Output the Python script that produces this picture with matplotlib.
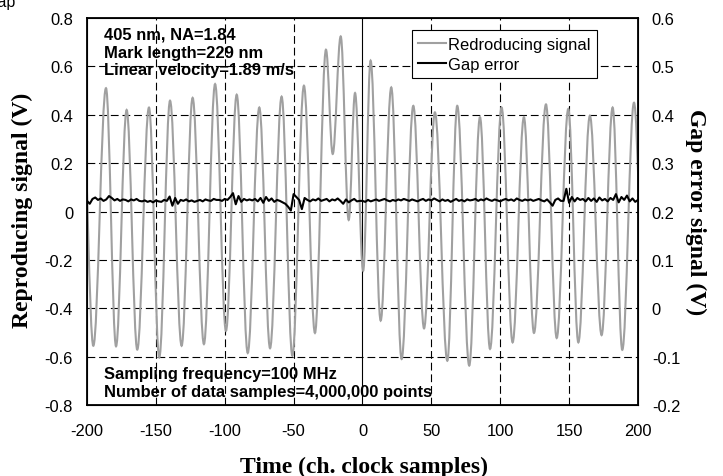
import numpy as np
import matplotlib.pyplot as plt
from matplotlib.path import Path
from matplotlib.patches import PathPatch
from matplotlib.lines import Line2D

# reproducing signal: peaks and troughs (time, volts)
sig_t = [-203.0, -195.4, -186.2, -178.9, -171.2, -163.5, -155.0, -147.5, -139.7, -131.3,
         -123.3, -115.1, -107.0, -99.1, -91.3, -83.3, -74.9, -67.1, -58.7, -50.9,
         -42.5, -34.5, -26.5, -21.6, -15.8, -10.0, -5.4, 0.5, 5.9, 13.2,
         20.9, 28.4, 36.9, 44.7, 52.6, 61.6, 68.8, 77.5, 85.3, 92.6,
         101.0, 109.0, 117.2, 124.5, 133.2, 141.0, 149.4, 156.7, 165.1, 173.6,
         181.6, 188.6, 197.1, 205.0]
sig_v = [0.40, -0.555, 0.51, -0.557, 0.42, -0.571, 0.43, -0.603, 0.458, -0.555,
         0.47, -0.548, 0.527, -0.493, 0.483, -0.585, 0.43, -0.565, 0.475, -0.596,
         0.52, -0.502, 0.669, 0.238, 0.724, -0.035, 0.49, -0.245, 0.624, -0.451,
         0.513, -0.61, 0.437, -0.483, 0.41, -0.617, 0.437, -0.637, 0.39, -0.568,
         0.43, -0.541, 0.39, -0.502, 0.443, -0.523, 0.424, -0.541, 0.396, -0.511,
         0.43, -0.572, 0.45, -0.50]

# gap error (right axis), one value every 2 clock samples from -200 to 200
gap_t = np.arange(-200, 201, 2)
gap_v = [0.222, 0.216, 0.226, 0.229, 0.224, 0.227, 0.222, 0.225, 0.232, 0.228,
         0.223, 0.226, 0.222, 0.225, 0.224, 0.221, 0.225, 0.223, 0.226, 0.222,
         0.221, 0.223, 0.220, 0.222, 0.219, 0.223, 0.221, 0.220, 0.224, 0.222,
         0.231, 0.212, 0.228, 0.216, 0.224, 0.222, 0.225, 0.221, 0.223, 0.220,
         0.222, 0.224, 0.221, 0.225, 0.223, 0.222, 0.226, 0.224, 0.224, 0.222,
         0.226, 0.224, 0.230, 0.238, 0.215, 0.232, 0.220, 0.226, 0.223, 0.225,
         0.223, 0.226, 0.221, 0.228, 0.218, 0.230, 0.222, 0.227, 0.220, 0.224,
         0.222, 0.219, 0.216, 0.210, 0.202, 0.236, 0.230, 0.224, 0.205, 0.228,
         0.224, 0.221, 0.225, 0.223, 0.227, 0.222, 0.224, 0.226, 0.221, 0.225,
         0.223, 0.227, 0.222, 0.216, 0.225, 0.219, 0.223, 0.226, 0.221, 0.222,
         0.222, 0.220, 0.224, 0.221, 0.223, 0.225, 0.222, 0.224, 0.226, 0.223,
         0.221, 0.224, 0.222, 0.225, 0.223, 0.226, 0.224, 0.222, 0.225, 0.223,
         0.221, 0.224, 0.226, 0.222, 0.225, 0.223, 0.227, 0.224, 0.221, 0.225,
         0.222, 0.224, 0.220, 0.223, 0.226, 0.222, 0.224, 0.221, 0.225, 0.223,
         0.224, 0.226, 0.222, 0.225, 0.223, 0.227, 0.224, 0.222, 0.225, 0.223,
         0.221, 0.224, 0.226, 0.223, 0.225, 0.222, 0.227, 0.224, 0.222, 0.225,
         0.223, 0.225, 0.222, 0.224, 0.226, 0.223, 0.221, 0.225, 0.219, 0.212,
         0.224, 0.227, 0.222, 0.222, 0.247, 0.218, 0.230, 0.221, 0.228, 0.224,
         0.226, 0.221, 0.228, 0.222, 0.227, 0.220, 0.229, 0.223, 0.226, 0.221,
         0.228, 0.224, 0.236, 0.219, 0.230, 0.224, 0.233, 0.221, 0.227, 0.220,
         0.224]

x_ticks = [-200, -150, -100, -50, 0, 50, 100, 150, 200]
left_ticks = [0.8, 0.6, 0.4, 0.2, 0, -0.2, -0.4, -0.6, -0.8]
left_labels = ["0.8", "0.6", "0.4", "0.2", "0", "-0.2", "-0.4", "-0.6", "-0.8"]
right_ticks = [0.6, 0.5, 0.4, 0.3, 0.2, 0.1, 0, -0.1, -0.2]
right_labels = ["0.6", "0.5", "0.4", "0.3", "0.2", "0.1", "0", "-0.1", "-0.2"]

SANS = "Liberation Sans"
SERIF = "Liberation Serif"
GRAY = "#a0a0a0"
FS = 11.9

fig = plt.figure(figsize=(7.23, 4.77), dpi=100)
ax = fig.add_axes([0.1203, 0.1488, 0.7621, 0.8113])
ax.set_xlim(-200, 200)
ax.set_ylim(-0.8, 0.8)

# grid
dash = (0, (7, 3.5))
for t in x_ticks[1:-1]:
    if t == 0:
        ax.axvline(0, color="k", lw=0.8, zorder=1)
    else:
        ax.axvline(t, color="k", lw=0.8, ls=dash, zorder=1)
for v in left_ticks[1:-1]:
    ax.axhline(v, color="k", lw=0.8, ls=dash, zorder=1)

# smooth the reproducing signal between extrema with bezier segments
k = 0.364
verts = [(sig_t[0], sig_v[0])]
codes = [Path.MOVETO]
for i in range(len(sig_t) - 1):
    x0, y0, x1, y1 = sig_t[i], sig_v[i], sig_t[i + 1], sig_v[i + 1]
    dx = x1 - x0
    verts += [(x0 + k * dx, y0), (x1 - k * dx, y1), (x1, y1)]
    codes += [Path.CURVE4] * 3
ax.add_patch(PathPatch(Path(verts, codes), fill=False, ec=GRAY, lw=1.5, zorder=2))

ax.set_xticks(x_ticks)
ax.set_xticklabels([str(t) for t in x_ticks])
ax.set_yticks(left_ticks)
ax.set_yticklabels(left_labels)
ax.tick_params(length=0, labelsize=FS, pad=10)
for lab in ax.get_xticklabels() + ax.get_yticklabels():
    lab.set_fontfamily(SANS)
ax.tick_params(axis="x", pad=13)
for s in ax.spines.values():
    s.set_linewidth(1.3)

ax2 = ax.twinx()
ax2.set_ylim(-0.2, 0.6)
gap_line, = ax2.plot(gap_t, gap_v, color="k", lw=1.5)
ax2.set_yticks(right_ticks)
ax2.set_yticklabels(right_labels)
ax2.tick_params(length=0, labelsize=FS, pad=10)
for lab in ax2.get_yticklabels():
    lab.set_fontfamily(SANS)

ax.set_xlabel("Time (ch. clock samples)", family=SERIF, weight="bold", fontsize=17, va="center")
ax.xaxis.set_label_coords(0.502, -0.158)
ax.set_ylabel("Reproducing signal (V)", family=SERIF, weight="bold", fontsize=17, va="center")
ax.yaxis.set_label_coords(-0.117, 0.505)
ax2.set_ylabel("Gap error signal (V)", family=SERIF, weight="bold", fontsize=17,
               rotation=270, va="center")
ax2.yaxis.set_label_coords(1.105, 0.5)

ax.text(0.031, 0.977, "405 nm, NA=1.84\nMark length=229 nm\nLinear velocity=1.89 m/s",
        transform=ax.transAxes, ha="left", va="top", family=SANS, weight="bold",
        fontsize=FS, linespacing=1.22, zorder=5)
ax.text(0.031, 0.016, "Sampling frequency=100 MHz\nNumber of data samples=4,000,000 points",
        transform=ax.transAxes, ha="left", va="bottom", family=SANS, weight="bold",
        fontsize=FS, linespacing=1.22, zorder=5)

handles = [Line2D([], [], color=GRAY, lw=1.5), gap_line]
leg = ax2.legend(handles, ["Redroducing signal", "Gap error"], loc="upper right",
                 bbox_to_anchor=(0.9256, 0.969), borderaxespad=0, fancybox=False,
                 framealpha=1, edgecolor="k", prop={"family": SANS, "size": FS},
                 handlelength=1.7, handletextpad=0.1, borderpad=0.4, labelspacing=0.3)
leg.get_frame().set_linewidth(0.8)

# fragment of the caption cut at the page edge
fig.text(15 / 723, 1 - 7 / 477, "Gap", ha="right", va="baseline", family=SANS, fontsize=11.5)

fig.savefig("out.png", dpi=100)
